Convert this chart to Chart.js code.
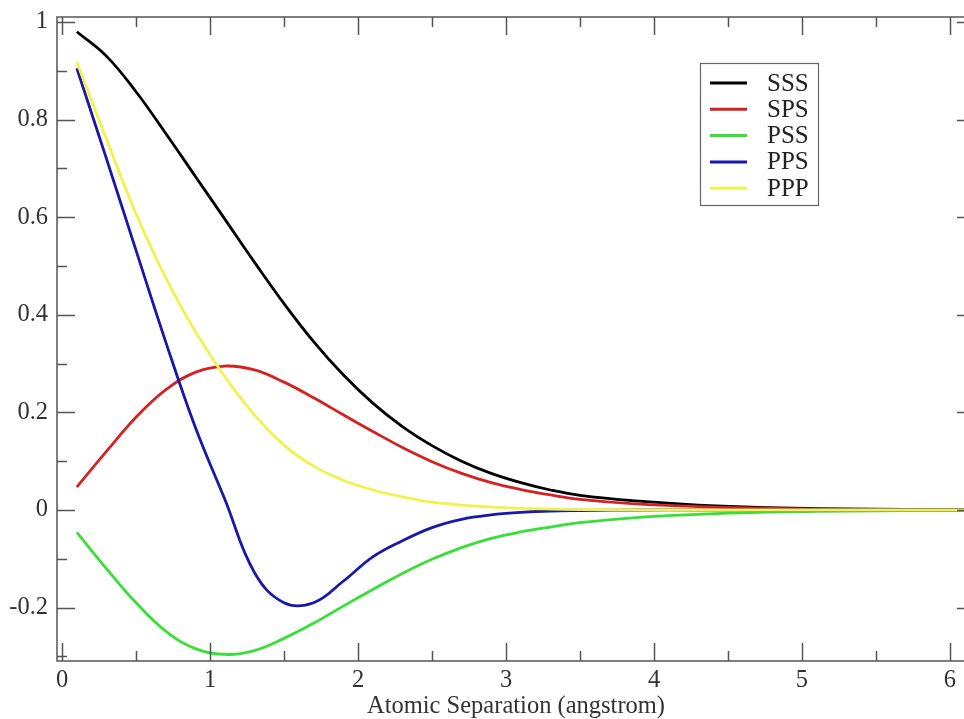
<!DOCTYPE html>
<html><head><meta charset="utf-8">
<script src="https://cdn.jsdelivr.net/npm/chart.js@4/dist/chart.umd.min.js"></script>
<style>html,body{margin:0;padding:0;overflow:hidden;background:#fff}#wrap{width:980px;height:719px}</style>
</head><body><div id="wrap"><canvas id="c" width="980" height="719"></canvas></div>
<script>
// ---- data ----
const separation = [0.1, 0.3, 0.5, 0.7, 0.9, 1.1, 1.3, 1.5, 1.7, 1.9, 2.1, 2.3, 2.5, 2.7, 2.9, 3.1, 3.3, 3.5, 3.9, 4.3, 4.7, 5.1, 5.5, 5.9, 6.15];
const sss = [0.980, 0.930, 0.857, 0.772, 0.684, 0.596, 0.508, 0.423, 0.345, 0.277, 0.219, 0.171, 0.132, 0.100, 0.075, 0.056, 0.041, 0.030, 0.018, 0.010, 0.0055, 0.003, 0.0015, 0.0008, 0.0005];
const sps = [0.047, 0.120, 0.190, 0.246, 0.282, 0.295, 0.287, 0.262, 0.230, 0.195, 0.161, 0.128, 0.099, 0.075, 0.056, 0.042, 0.031, 0.022, 0.012, 0.007, 0.004, 0.002, 0.001, 0.0005, 0.0003];
const pss = [-0.046, -0.120, -0.190, -0.248, -0.284, -0.296, -0.288, -0.263, -0.232, -0.197, -0.163, -0.130, -0.101, -0.077, -0.058, -0.045, -0.035, -0.026, -0.015, -0.009, -0.005, -0.003, -0.0015, -0.0007, -0.0004];
const pps = [0.905, 0.720, 0.532, 0.345, 0.170, 0.022, -0.128, -0.190, -0.190, -0.146, -0.096, -0.063, -0.036, -0.019, -0.010, -0.005, -0.002, -0.001, 0, 0, 0, 0, 0, 0, 0];
const ppp = [0.918, 0.760, 0.607, 0.476, 0.366, 0.273, 0.195, 0.133, 0.090, 0.061, 0.041, 0.027, 0.016, 0.010, 0.006, 0.0035, 0.002, 0.001, 0.0004, 0, 0, 0, 0, 0, 0];
const seriesNames = ['SSS', 'SPS', 'PSS', 'PPS', 'PPP'];
const seriesValues = [sss, sps, pss, pps, ppp];
const seriesColors = ['#000000', '#d42222', '#36e036', '#1818aa', '#f2f24a'];
const xRange = [-0.034, 6.169];
const yRange = [-0.3094, 1.0102];
const xMajorStep = 1, xMinorStep = 0.5;
const yMajorStep = 0.2, yMinorStep = 0.1;
const xTitle = 'Atomic Separation (angstrom)';

const FONT = "'Liberation Serif', 'Times New Roman', serif";
const AXIS = '#555555';

const framePlugin = {
  id: 'frame',
  afterDraw(chart) {
    const {ctx, chartArea: a, scales: {x, y}} = chart;
    ctx.save();
    ctx.strokeStyle = AXIS; ctx.lineWidth = 1.5;
    ctx.strokeRect(a.left, a.top, a.right - a.left, a.bottom - a.top);
    const MAJ = 18, MIN = 10;
    ctx.beginPath();
    const n0 = Math.ceil(x.min / xMinorStep - 1e-9), n1 = Math.floor(x.max / xMinorStep + 1e-9);
    const ratioX = Math.round(xMajorStep / xMinorStep);
    for (let n = n0; n <= n1; n++) {
      const px = Math.round(x.getPixelForValue(n * xMinorStep)) + 0.5;
      const L = (n % ratioX === 0) ? MAJ : MIN;
      ctx.moveTo(px, a.bottom); ctx.lineTo(px, a.bottom - L);
      ctx.moveTo(px, a.top); ctx.lineTo(px, a.top + L);
    }
    const m0 = Math.ceil(y.min / yMinorStep - 1e-9), m1 = Math.floor(y.max / yMinorStep + 1e-9);
    const ratioY = Math.round(yMajorStep / yMinorStep);
    for (let m = m0; m <= m1; m++) {
      const py = Math.round(y.getPixelForValue(m * yMinorStep)) + 0.5;
      const L = (m % ratioY === 0) ? MAJ : MIN;
      ctx.moveTo(a.left, py); ctx.lineTo(a.left + L, py);
      ctx.moveTo(a.right, py); ctx.lineTo(a.right - L, py);
    }
    ctx.stroke();
    // legend
    const bx = 700, by = 63, bw = 118, bh = 142;
    ctx.fillStyle = '#fff';
    ctx.fillRect(bx, by, bw, bh);
    ctx.strokeStyle = '#666'; ctx.lineWidth = 1.2;
    ctx.strokeRect(bx + 0.5, by + 0.5, bw, bh);
    ctx.font = '25px ' + FONT;
    ctx.textBaseline = 'middle'; ctx.textAlign = 'left';
    chart.data.datasets.forEach((ds, i) => {
      const ry = by + 20 + i * 26.3;
      ctx.strokeStyle = ds.borderColor; ctx.lineWidth = 3;
      ctx.beginPath(); ctx.moveTo(bx + 10, ry); ctx.lineTo(bx + 47, ry); ctx.stroke();
      ctx.fillStyle = '#222';
      ctx.fillText(ds.label, bx + 67, ry + 1);
    });
    ctx.restore();
  }
};

new Chart(document.getElementById('c'), {
  type: 'line',
  data: {
    datasets: seriesNames.map((name, i) => ({
      label: name,
      data: separation.map((s, k) => ({x: s, y: seriesValues[i][k]})),
      borderColor: seriesColors[i],
      backgroundColor: seriesColors[i],
      borderWidth: 2.8,
      pointRadius: 0,
      fill: false,
      tension: 0.4,
      order: seriesNames.length - i
    }))
  },
  options: {
    responsive: false,
    animation: false,
    devicePixelRatio: 1,
    layout: {padding: {top: 17, right: 5, left: 0, bottom: 0}},
    plugins: {legend: {display: false}, tooltip: {enabled: false}},
    scales: {
      x: {
        type: 'linear', min: xRange[0], max: xRange[1],
        grid: {display: false, drawTicks: false, tickLength: 0},
        border: {display: false},
        ticks: {stepSize: xMajorStep, includeBounds: false, padding: 5, color: '#333',
                font: {family: FONT, size: 24.5}, maxRotation: 0,
                callback: v => String(v)},
        title: {display: true, text: xTitle, color: '#333', font: {family: FONT, size: 24.5},
                padding: {top: 0, bottom: -2}},
        afterFit: s => { s.height = 58; s.paddingLeft = 0; s.paddingRight = 0; }
      },
      y: {
        type: 'linear', min: yRange[0], max: yRange[1],
        grid: {display: false, drawTicks: false, tickLength: 0},
        border: {display: false},
        ticks: {stepSize: yMajorStep, includeBounds: false, padding: 9, color: '#333',
                font: {family: FONT, size: 24.5},
                callback: v => String(Math.round(v * 10) / 10)},
        afterFit: s => { s.width = 57; s.paddingTop = 0; s.paddingBottom = 0; }
      }
    }
  },
  plugins: [framePlugin]
});
</script></body></html>
